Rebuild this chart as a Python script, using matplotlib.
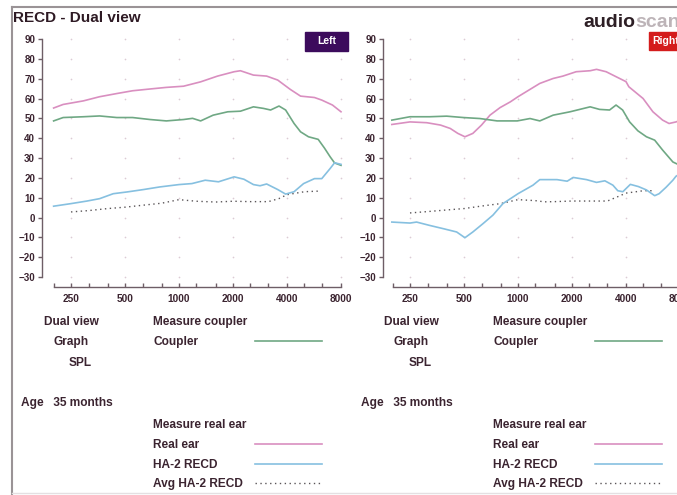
import numpy as np
import matplotlib
matplotlib.use('Agg')
import matplotlib.pyplot as plt
from matplotlib.lines import Line2D
from matplotlib.patches import Rectangle

plt.rcParams['font.family'] = ['Liberation Sans', 'DejaVu Sans']

W, H = 677, 495

# ---- data ----
left_real_f = [200, 226, 293, 361, 450, 551, 690, 850, 1060, 1320, 1640, 2030, 2200, 2600, 3080,
               3550, 4170, 4760, 5690, 6250, 7170, 8000]
left_real_db = [55.2, 57.0, 58.8, 60.9, 62.5, 63.9, 64.8, 65.6, 66.2, 68.4, 71.3, 73.5, 74.0, 71.8,
                71.3, 69.3, 64.6, 61.2, 60.5, 59.2, 56.7, 53.3]

left_coupler_f = [200, 226, 293, 361, 450, 551, 690, 850, 1060, 1190, 1320, 1550, 1870, 2200, 2600,
                  2960, 3240, 3610, 3930, 4380, 4760, 5270, 5970, 6470, 6960, 7370, 8000]
left_coupler_db = [48.7, 50.4, 50.8, 51.2, 50.4, 50.4, 49.4, 48.7, 49.4, 50.0, 48.7, 51.6, 53.3, 53.6,
                   55.8, 55.0, 54.2, 56.2, 54.2, 47.4, 43.2, 40.7, 39.4, 35.0, 30.6, 27.5, 26.3]

left_recd_f = [200, 250, 307, 361, 430, 515, 635, 780, 1000, 1180, 1400, 1660, 2030, 2300, 2600,
               2830, 3080, 3550, 3930, 4380, 4950, 5690, 6250, 6960, 7370, 8000]
left_recd_db = [5.7, 7.0, 8.3, 9.5, 12.0, 12.9, 14.1, 15.4, 16.6, 17.1, 18.8, 18.0, 20.5, 19.3, 16.6,
                16.0, 16.9, 14.1, 11.8, 13.0, 17.1, 19.6, 19.6, 24.7, 27.6, 26.8]

avg_f_left = [250, 315, 400, 500, 630, 800, 1000, 1250, 1600, 2000, 2500, 3150, 3600, 4000, 5000, 6000]
avg_db_left = [2.8, 3.5, 4.5, 5.2, 6.2, 7.2, 9.0, 8.2, 7.8, 8.2, 8.0, 8.0, 9.5, 11.5, 13.0, 13.3]

right_real_f = [198, 250, 310, 370, 419, 462, 506, 560, 626, 698, 794, 906, 1000, 1167, 1323, 1570,
                1780, 2110, 2525, 2740, 3100, 3520, 4000, 4150, 4980, 5650, 6400, 6950, 7610, 8000]
right_real_db = [46.9, 48.2, 47.8, 46.6, 44.9, 42.4, 40.7, 42.4, 46.6, 51.6, 55.4, 58.3, 60.9, 64.6,
                 67.6, 70.1, 71.3, 73.5, 74.0, 74.7, 73.5, 71.0, 68.5, 65.9, 60.0, 53.3, 49.1, 47.4,
                 48.2, 49.0]

right_coupler_f = [198, 250, 322, 400, 496, 613, 765, 990, 1167, 1323, 1570, 1950, 2525, 2850, 3240,
                   3520, 3830, 4190, 4660, 5200, 5780, 6400, 7300, 7700]
right_coupler_db = [49.1, 50.8, 50.8, 51.1, 50.4, 49.9, 48.7, 48.7, 49.9, 48.7, 51.6, 53.3, 55.8, 54.5,
                    54.2, 56.7, 54.2, 48.2, 43.7, 40.7, 39.0, 34.0, 28.0, 27.0]

right_recd_f = [198, 250, 272, 322, 382, 455, 506, 560, 638, 725, 824, 1000, 1212, 1323, 1650, 1880,
                2030, 2410, 2740, 3050, 3380, 3600, 3840, 4230, 4690, 5200, 5780, 6120, 6700, 7300,
                7600, 8000]
right_recd_db = [-2.3, -2.8, -2.3, -4.0, -5.6, -7.3, -10.2, -7.3, -3.1, 1.2, 7.0, 12.0, 16.3, 19.1,
                 19.1, 18.3, 20.2, 19.1, 17.7, 18.5, 16.3, 13.5, 13.0, 16.7, 15.6, 13.9, 11.0, 12.0,
                 15.3, 18.8, 20.8, 22.0]

avg_f_right = [250, 315, 400, 500, 630, 800, 1000, 1250, 1400, 1600, 2000, 2500, 3150, 3600, 4000, 5000, 5800]
avg_db_right = [2.3, 3.0, 3.8, 4.5, 5.8, 7.0, 9.0, 8.5, 7.9, 8.0, 8.3, 8.3, 8.3, 10.5, 12.3, 13.5, 13.5]

major_f = [250, 500, 1000, 2000, 4000, 8000]
minor_f = [200, 315, 400, 630, 800, 1250, 1600, 2500, 3150, 5000, 6300]
y_ticks = list(range(-30, 100, 10))

c_real = '#d98fc0'
c_coupler = '#6fa884'
c_recd = '#86c0e0'
c_avg = '#5a5558'
c_text = '#3b2430'
c_axis = '#6e5e66'


def fx(x):
    return x / W


def fy(y):
    return 1 - y / H


def make_panel(spine_px, f250_px, right_px, oct_px=54.0):
    lo = 250 * 2 ** ((spine_px - f250_px) / oct_px)
    hi = 250 * 2 ** ((right_px - f250_px) / oct_px)
    top, bot = 39, 277
    ax = fig.add_axes([fx(spine_px), fy(bot), fx(right_px - spine_px), (bot - top) / H])
    ax.set_xscale('log')
    ax.set_xlim(lo, hi)
    ax.set_ylim(-30, 90)
    ax.patch.set_alpha(0)
    for s in ['top', 'right']:
        ax.spines[s].set_visible(False)
    ax.spines['left'].set_bounds(-30, 90)
    ax.spines['bottom'].set_position(('outward', 7.2))
    ax.spines['bottom'].set_bounds(200, 8000)
    for s in ['left', 'bottom']:
        ax.spines[s].set_color(c_axis)
        ax.spines[s].set_linewidth(1.0)
    ax.set_yticks(y_ticks)
    ax.set_xticks(major_f)
    ax.set_xticklabels([str(f) for f in major_f])
    ax.set_xticks(minor_f, minor=True)
    ax.xaxis.set_minor_formatter(plt.NullFormatter())
    ax.tick_params(axis='y', direction='out', length=3, width=1, colors=c_axis, pad=2,
                   labelsize=7, labelcolor=c_text)
    ax.tick_params(axis='x', which='both', direction='in', length=3, width=1, colors=c_axis,
                   pad=5, labelsize=7.3, labelcolor=c_text)
    for lab in ax.get_xticklabels() + ax.get_yticklabels():
        lab.set_fontweight('bold')
    # faint dot grid
    gx, gy = np.meshgrid(major_f, y_ticks)
    ax.scatter(gx.ravel(), gy.ravel(), s=1.5, color='#dccbd4', linewidths=0, clip_on=False, zorder=1)
    return ax


fig = plt.figure(figsize=(W / 100, H / 100), dpi=100)
fig.patch.set_facecolor('white')

ax_l = make_panel(42, 71, 345)
ax_r = make_panel(383, 410, 700)

lw = 1.2
ax_l.plot(left_real_f, left_real_db, color=c_real, lw=lw, zorder=3)
ax_l.plot(left_coupler_f, left_coupler_db, color=c_coupler, lw=lw, zorder=3)
ax_l.plot(left_recd_f, left_recd_db, color=c_recd, lw=lw, zorder=3)
ax_l.plot(avg_f_left, avg_db_left, color=c_avg, lw=1.0, ls=(0, (1, 2.5)), zorder=2)

ax_r.plot(right_real_f, right_real_db, color=c_real, lw=lw, zorder=3)
ax_r.plot(right_coupler_f, right_coupler_db, color=c_coupler, lw=lw, zorder=3)
ax_r.plot(right_recd_f, right_recd_db, color=c_recd, lw=lw, zorder=3)
ax_r.plot(avg_f_right, avg_db_right, color=c_avg, lw=1.0, ls=(0, (1, 2.5)), zorder=2)

# frame
fig.add_artist(Line2D([fx(12), 1], [fy(7), fy(7)], color='#9a9396', lw=1.5))
fig.add_artist(Line2D([fx(12), fx(12)], [fy(7), 0], color='#9a9396', lw=1.5))
fig.add_artist(Line2D([fx(12), 1], [fy(493), fy(493)], color='#e4e0e2', lw=1.0))

fig.text(fx(13), fy(18), 'RECD - Dual view', fontsize=11, fontweight='bold', color='#2e1a24',
         ha='left', va='center')

# logo
t_audio = fig.text(fx(583), fy(27), 'audio', fontsize=14, fontweight='bold', color='#2d1f25',
                   ha='left', va='baseline')
ax_l.annotate('scan', xy=(1, 0), xycoords=t_audio, xytext=(0, 0), textcoords='offset points',
              fontsize=14, fontweight='bold', color='#bdb4b8', ha='left', va='bottom',
              annotation_clip=False)

# ear tags
fig.add_artist(Rectangle((fx(305), fy(51)), fx(43), (51 - 32) / H, color='#3c0b5c'))
fig.text(fx(326.5), fy(41.5), 'Left', fontsize=7.5, fontweight='bold', color='white',
         ha='center', va='center')
fig.add_artist(Rectangle((fx(649), fy(50)), fx(43), (50 - 32) / H, color='#d41c1c'))
fig.text(fx(652), fy(41), 'Right', fontsize=7.5, fontweight='bold', color='white',
         ha='left', va='center')

# info block under each graph
fs = 8.6
for off in [0, 340]:
    fig.text(fx(71 + off), fy(322), 'Dual view', fontsize=fs, fontweight='bold', color=c_text,
             ha='center', va='center')
    fig.text(fx(71 + off), fy(342), 'Graph', fontsize=fs, fontweight='bold', color=c_text,
             ha='center', va='center')
    fig.text(fx(80 + off), fy(363), 'SPL', fontsize=fs, fontweight='bold', color=c_text,
             ha='center', va='center')
    fig.text(fx(21 + off), fy(403), 'Age   35 months', fontsize=fs, fontweight='bold', color=c_text,
             ha='left', va='center')
    rows = [('Measure coupler', 322, None, None),
            ('Coupler', 342, c_coupler, '-'),
            ('Measure real ear', 425, None, None),
            ('Real ear', 445, c_real, '-'),
            ('HA-2 RECD', 465, c_recd, '-'),
            ('Avg HA-2 RECD', 484, c_avg, (0, (1, 2.5)))]
    for label, y, col, ls in rows:
        fig.text(fx(153 + off), fy(y), label, fontsize=fs, fontweight='bold', color=c_text,
                 ha='left', va='center')
        if col is not None:
            fig.add_artist(Line2D([fx(255 + off), fx(322 + off)], [fy(y - 1), fy(y - 1)],
                                  color=col, lw=lw if ls == '-' else 1.0, ls=ls))

fig.savefig('out.png', dpi=100)
